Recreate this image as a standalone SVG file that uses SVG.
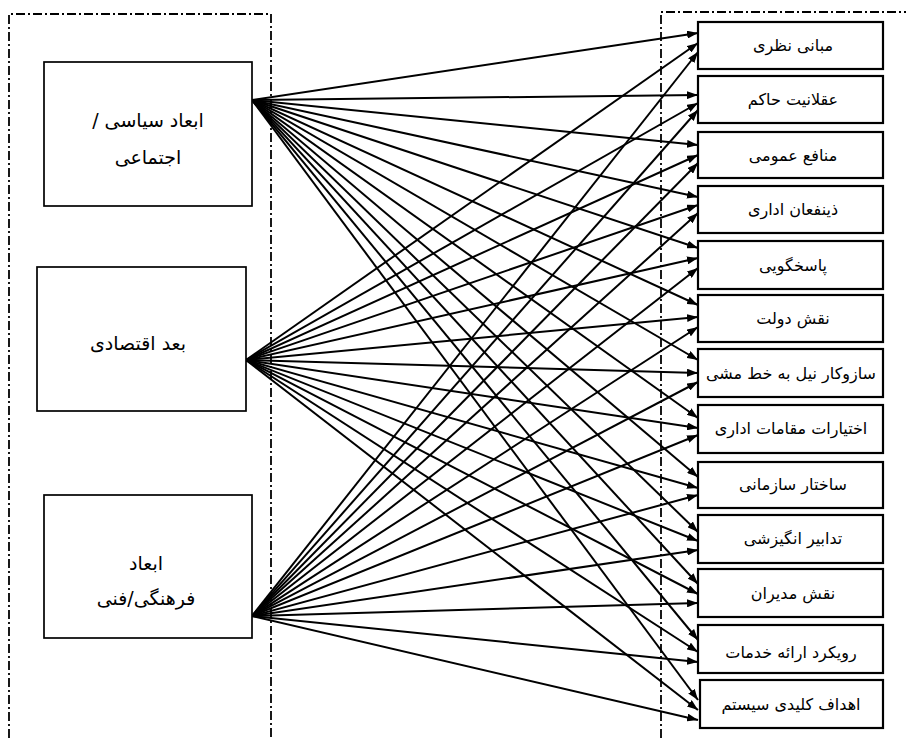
<svg xmlns="http://www.w3.org/2000/svg" width="906" height="738" viewBox="0 0 906 738">
<style>
.frame{fill:none;stroke:#000;stroke-width:1.8;stroke-dasharray:9 3 2 3}
.lbox{fill:#fff;stroke:#000;stroke-width:1.7}
.rbox{fill:#fff;stroke:#000;stroke-width:2.2}
.lt{font-family:"DejaVu Sans",sans-serif;font-size:19px;fill:#000;text-anchor:middle;direction:rtl}
.rt{font-family:"DejaVu Sans",sans-serif;font-size:16px;fill:#000;text-anchor:middle;direction:rtl}
.c{stroke:#000;stroke-width:2;fill:none;marker-end:url(#ah)}
</style>
<defs>
<marker id="ah" markerUnits="userSpaceOnUse" markerWidth="11" markerHeight="8" refX="11" refY="4" orient="auto">
<path d="M0,0 L11,4 L0,8 z" fill="#000"/>
</marker>
</defs>
<rect width="906" height="738" fill="#fff"/>
<g id="frames">
<path class="frame" d="M9,738 V14 H271 V738"/>
<path class="frame" d="M661,738 V12 H906"/>
</g>
<g id="connectors">
<path class="c" d="M252,100 L698,33"/>
<path class="c" d="M252,100 L698,95"/>
<path class="c" d="M252,100 L698,145"/>
<path class="c" d="M252,100 L698,197"/>
<path class="c" d="M252,100 L698,248"/>
<path class="c" d="M252,100 L698,305"/>
<path class="c" d="M252,100 L698,360"/>
<path class="c" d="M252,100 L698,418"/>
<path class="c" d="M252,100 L698,477"/>
<path class="c" d="M252,100 L698,532"/>
<path class="c" d="M252,100 L698,584"/>
<path class="c" d="M252,100 L698,640"/>
<path class="c" d="M252,100 L698,700"/>
<path class="c" d="M246,360 L698,43"/>
<path class="c" d="M246,360 L698,103"/>
<path class="c" d="M246,360 L698,155"/>
<path class="c" d="M246,360 L698,205"/>
<path class="c" d="M246,360 L698,258"/>
<path class="c" d="M246,360 L698,317"/>
<path class="c" d="M246,360 L698,373"/>
<path class="c" d="M246,360 L698,428"/>
<path class="c" d="M246,360 L698,488"/>
<path class="c" d="M246,360 L698,541"/>
<path class="c" d="M246,360 L698,594"/>
<path class="c" d="M246,360 L698,652"/>
<path class="c" d="M246,360 L698,710"/>
<path class="c" d="M252,616 L698,52"/>
<path class="c" d="M252,616 L698,110"/>
<path class="c" d="M252,616 L698,163"/>
<path class="c" d="M252,616 L698,213"/>
<path class="c" d="M252,616 L698,268"/>
<path class="c" d="M252,616 L698,327"/>
<path class="c" d="M252,616 L698,382"/>
<path class="c" d="M252,616 L698,435"/>
<path class="c" d="M252,616 L698,495"/>
<path class="c" d="M252,616 L698,550"/>
<path class="c" d="M252,616 L698,603"/>
<path class="c" d="M252,616 L698,662"/>
<path class="c" d="M252,616 L698,720"/>
</g>
<g id="n-political">
<rect class="lbox" x="44" y="62" width="208" height="144"/>
<text class="lt" x="148" y="127">ابعاد سیاسی /</text>
<text class="lt" x="148" y="164">اجتماعی</text>
</g>
<g id="n-economic">
<rect class="lbox" x="37" y="267" width="209" height="144"/>
<text class="lt" x="138" y="350">بعد اقتصادی</text>
</g>
<g id="n-cultural">
<rect class="lbox" x="44" y="495" width="208" height="143"/>
<text class="lt" x="146" y="570">ابعاد</text>
<text class="lt" x="146" y="605">فرهنگی/فنی</text>
</g>
<g id="n1"><rect class="rbox" x="698" y="22" width="185" height="47"/><text class="rt" x="793" y="51">مبانی نظری</text></g>
<g id="n2"><rect class="rbox" x="698" y="76" width="185" height="47"/><text class="rt" x="793" y="105">عقلانیت حاکم</text></g>
<g id="n3"><rect class="rbox" x="698" y="132" width="185" height="46"/><text class="rt" x="793" y="161">منافع عمومی</text></g>
<g id="n4"><rect class="rbox" x="698" y="186" width="185" height="47"/><text class="rt" x="793" y="215">ذینفعان اداری</text></g>
<g id="n5"><rect class="rbox" x="698" y="241" width="185" height="48"/><text class="rt" x="793" y="271">پاسخگویی</text></g>
<g id="n6"><rect class="rbox" x="698" y="295" width="185" height="47"/><text class="rt" x="793" y="324">نقش دولت</text></g>
<g id="n7"><rect class="rbox" x="698" y="349" width="185" height="48"/><text class="rt" x="791" y="379">سازوکار نیل به خط مشی</text></g>
<g id="n8"><rect class="rbox" x="698" y="405" width="185" height="48"/><text class="rt" x="791" y="434">اختیارات مقامات اداری</text></g>
<g id="n9"><rect class="rbox" x="698" y="462" width="185" height="46"/><text class="rt" x="793" y="490">ساختار سازمانی</text></g>
<g id="n10"><rect class="rbox" x="698" y="515" width="185" height="48"/><text class="rt" x="793" y="544">تدابیر انگیزشی</text></g>
<g id="n11"><rect class="rbox" x="698" y="569" width="185" height="48"/><text class="rt" x="793" y="599">نقش مدیران</text></g>
<g id="n12"><rect class="rbox" x="698" y="625" width="185" height="48"/><text class="rt" x="791" y="658">رویکرد ارائه خدمات</text></g>
<g id="n13"><rect class="rbox" x="700" y="680" width="183" height="48"/><text class="rt" x="791" y="710">اهداف کلیدی سیستم</text></g>
</svg>
